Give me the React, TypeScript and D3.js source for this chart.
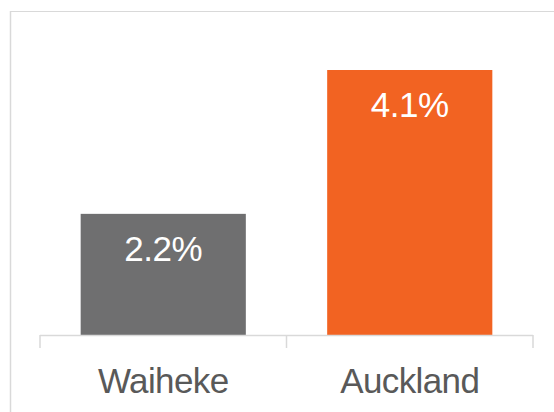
import React from 'react';
import * as d3 from 'd3';

const categories = ['Waiheke', 'Auckland'];
const values = [2.2, 4.1];
const valueLabels = ['2.2%', '4.1%'];
const colors = ['#6f6f70', '#f26322'];

const W = 554;
const H = 412;

export default function App() {
  const x = d3.scaleBand<string>().domain(categories).range([40, 533]).paddingInner(0.33).paddingOuter(0.165);
  const band = d3.scaleBand<string>().domain(categories).range([40, 533]);
  const y = d3.scaleLinear().domain([0.6, 4.1]).range([335, 70]);
  const baseY = 335;
  const tickXs = [40, ...categories.map(c => (band(c) as number) + band.bandwidth())];

  return (
    <svg width={W} height={H} style={{ position: 'absolute', left: 0, top: 0 }}>
      <rect width={W} height={H} fill="#fff" />
      <line x1={10.5} x2={10.5} y1={11} y2={H} stroke="#d9d9d9" strokeWidth={1.5} />
      <line x1={10} x2={W} y1={11.5} y2={11.5} stroke="#d9d9d9" strokeWidth={1} />
      {categories.map((c, i) => (
        <g key={c}>
          <rect x={x(c)} y={y(values[i])} width={x.bandwidth()} height={baseY - y(values[i])} fill={colors[i]} />
          <text
            x={(x(c) as number) + x.bandwidth() / 2}
            y={y(values[i]) + 47}
            textAnchor="middle"
            fill="#fff"
            fontFamily="Liberation Sans, Arial, sans-serif"
            fontSize={35}
            letterSpacing={-0.5}
          >
            {valueLabels[i]}
          </text>
          <text
            x={(band(c) as number) + band.bandwidth() / 2}
            y={393}
            textAnchor="middle"
            fill="#595959"
            fontFamily="Liberation Sans, Arial, sans-serif"
            fontSize={35}
            letterSpacing={-0.6}
          >
            {c}
          </text>
        </g>
      ))}
      <line x1={40} x2={533} y1={baseY + 0.5} y2={baseY + 0.5} stroke="#d9d9d9" strokeWidth={1.5} />
      {tickXs.map((t, i) => (
        <line key={i} x1={t} x2={t} y1={baseY} y2={348} stroke="#d9d9d9" strokeWidth={1.5} />
      ))}
    </svg>
  );
}
